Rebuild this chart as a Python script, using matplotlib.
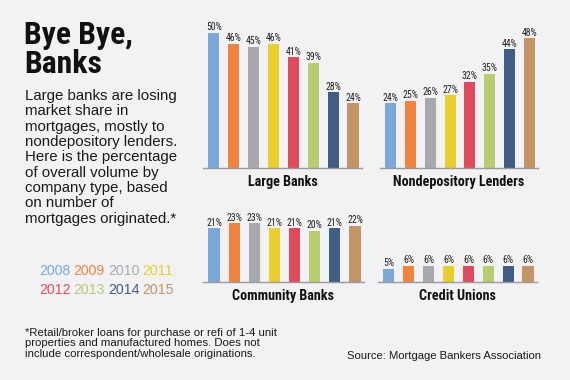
import matplotlib
matplotlib.use("Agg")
import matplotlib.pyplot as plt

years = ["2008", "2009", "2010", "2011", "2012", "2013", "2014", "2015"]
colors = ["#7ba7d9", "#f0843e", "#a8a9ad", "#e8cf2e", "#df4a5c", "#b6cd70", "#405e84", "#c39466"]
large_banks = [50, 46, 45, 46, 41, 39, 28, 24]
nondepository = [24, 25, 26, 27, 32, 35, 44, 48]
community = [21, 23, 23, 21, 21, 20, 21, 22]
credit_unions = [5, 6, 6, 6, 6, 6, 6, 6]

cond = ["Roboto Condensed", "DejaVu Sans"]
reg = ["Liberation Sans", "DejaVu Sans"]

BG = "#f2f2f4"
fig = plt.figure(figsize=(5.7, 3.8), dpi=100, facecolor=BG)
W, H = 570.0, 380.0

def make_axes(x0, x1, base_y, ymax, pxper):
    h = ymax * pxper
    ax = fig.add_axes([x0 / W, (H - base_y) / H, (x1 - x0) / W, h / H])
    ax.set_facecolor("none")
    return ax

panels = [
    ("Large Banks", large_banks, 203, 362, 168, 55, 2.7),
    ("Nondepository Lenders", nondepository, 380, 538, 168, 55, 2.7),
    ("Community Banks", community, 203, 364, 282, 26, 2.55),
    ("Credit Unions", credit_unions, 378, 537, 282, 9, 2.7),
]
for title, vals, x0, x1, by, ymax, pxper in panels:
    ax = make_axes(x0, x1, by, ymax, pxper)
    xs = list(range(len(vals)))
    ax.bar(xs, vals, width=0.56, color=colors, zorder=2)
    for x, v in zip(xs, vals):
        ax.text(x, v + 0.5 / pxper, f"{v}%", ha="center", va="bottom",
                fontsize=7, family=cond, color="#222222")
    ax.set_xlim(-0.55, 7.45)
    ax.set_ylim(0, ymax)
    for s in ["top", "right", "left"]:
        ax.spines[s].set_visible(False)
    ax.spines["bottom"].set_color("#9a9a9a")
    ax.spines["bottom"].set_linewidth(1.0)
    ax.set_xticks([])
    ax.set_yticks([])
    fig.text((x0 + x1) / 2 / W, 1 - (by + 14) / H, title, ha="center", va="center",
             fontsize=10.2, fontweight="bold", family=cond, color="#111111")

fig.text(24 / W, 1 - 20 / H, "Bye Bye,\nBanks", ha="left", va="top", fontsize=22.8,
         fontweight="bold", family=cond, color="#111111", linespacing=0.97)

body = ("Large banks are losing\nmarket share in\nmortgages, mostly to\nnondepository lenders.\n"
        "Here is the percentage\nof overall volume by\ncompany type, based\non number of\n"
        "mortgages originated.*")
fig.text(25 / W, 1 - 89 / H, body, ha="left", va="top", fontsize=10.8, family=reg,
         color="#1a1a1a", linespacing=1.12)

x_start = 39
row_y = [271, 290]
for i, (yr, c) in enumerate(zip(years, colors)):
    r, k = divmod(i, 4)
    fig.text((x_start + k * 34.5) / W, 1 - row_y[r] / H, yr, ha="left", va="center",
             fontsize=10.2, family=reg, color=c)

foot = ("*Retail/broker loans for purchase or refi of 1-4 unit\n"
        "properties and manufactured homes. Does not\n"
        "include correspondent/wholesale originations.")
fig.text(25 / W, 1 - 328 / H, foot, ha="left", va="top", fontsize=8.2, family=reg,
         color="#1a1a1a", linespacing=1.05)
fig.text(347 / W, 1 - 356 / H, "Source: Mortgage Bankers Association", ha="left", va="center",
         fontsize=8.1, family=reg, color="#1a1a1a")

fig.savefig("out.png", dpi=100, facecolor=BG)
